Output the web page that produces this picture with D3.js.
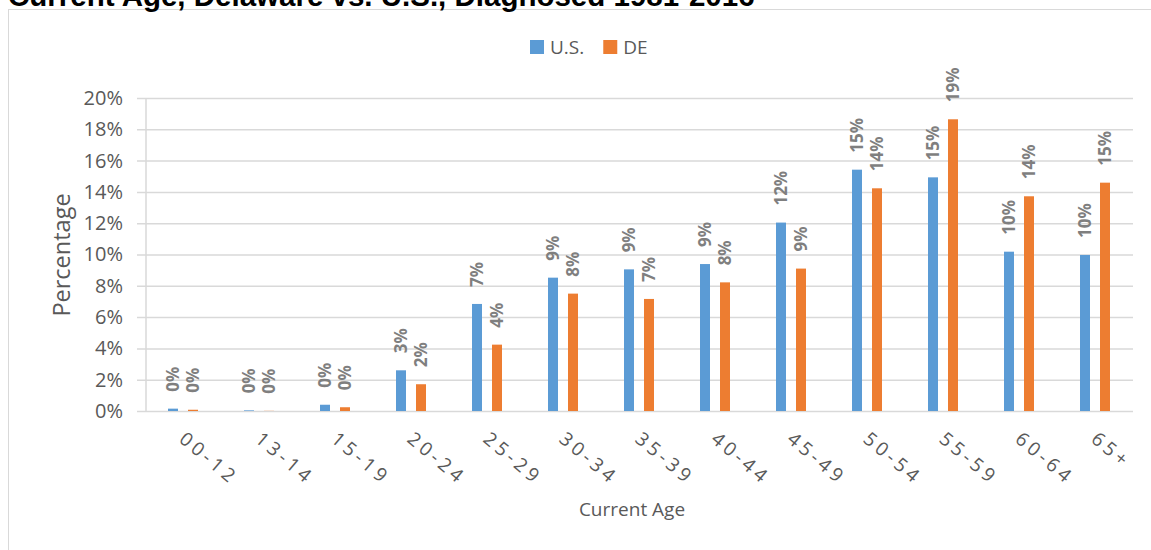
<!DOCTYPE html>
<html>
<head>
<meta charset="utf-8">
<script src="https://cdn.jsdelivr.net/npm/d3@7"></script>
<style>
  html, body { margin: 0; padding: 0; background: #fff; }
  svg { display: block; }
</style>
</head>
<body>
<svg id="chart" width="1151" height="550"></svg>
<script>
const title = "Current Age, Delaware vs. U.S., Diagnosed 1981-2016";
const categories = ["00-12","13-14","15-19","20-24","25-29","30-34","35-39","40-44","45-49","50-54","55-59","60-64","65+"];
const seriesNames = ["U.S.", "DE"];
const usValues = [0.15, 0.04, 0.40, 2.60, 6.84, 8.52, 9.05, 9.39, 12.04, 15.42, 14.93, 10.18, 9.97];
const deValues = [0.08, 0.01, 0.24, 1.71, 4.24, 7.50, 7.16, 8.22, 9.10, 14.23, 18.64, 13.72, 14.59];
const yTicks = [0, 2, 4, 6, 8, 10, 12, 14, 16, 18, 20];
const xTitle = "Current Age";
const yTitle = "Percentage";
const colors = ["#5b9bd5", "#ed7d31"];

const svg = d3.select("#chart");
const textColor = "#595959";
const gridColor = "#d9d9d9";

// chart border
svg.append("rect").attr("x", 8.5).attr("y", 9.5).attr("width", 1160).attr("height", 560)
  .attr("fill", "none").attr("stroke", gridColor).attr("stroke-width", 1);

// title (clipped at top as in reference)
svg.append("text").attr("x", 8).attr("y", 6)
  .attr("font-family", "Liberation Sans, Arial, sans-serif").attr("font-weight", "bold")
  .attr("font-size", 29.5).attr("fill", "#000").text(title);

const plotLeft = 145, plotRight = 1133, plotTop = 98, plotBottom = 411;
const x = d3.scaleBand().domain(categories).range([plotLeft, plotRight]).padding(0);
const y = d3.scaleLinear().domain([0, 20]).range([plotBottom, plotTop]);

// gridlines + y labels via axis
const yAxis = d3.axisLeft(y).tickValues(yTicks).tickFormat(d => d + "%")
  .tickSize(-(plotRight - plotLeft)).tickPadding(14);
const gy = svg.append("g").attr("transform", `translate(${plotLeft},0)`).call(yAxis);
gy.select(".domain").remove();
gy.selectAll(".tick line").attr("stroke", gridColor).attr("stroke-width", 1.5).attr("x1", -8);
gy.selectAll(".tick text").attr("fill", textColor).attr("font-family", "Open Sans, sans-serif")
  .attr("font-size", 20).attr("x", -22);

// vertical axis line
svg.append("line").attr("x1", plotLeft + 1).attr("x2", plotLeft + 1).attr("y1", plotTop).attr("y2", plotBottom)
  .attr("stroke", gridColor).attr("stroke-width", 1.5);

// bars
const barW = 10;
const series = [usValues, deValues];
series.forEach((vals, si) => {
  const off = si === 0 ? -15 : 5;
  svg.append("g").selectAll("rect").data(categories).join("rect")
    .attr("x", d => x(d) + x.bandwidth() / 2 + off)
    .attr("width", barW)
    .attr("y", (d, i) => y(vals[i]))
    .attr("height", (d, i) => y(0) - y(vals[i]))
    .attr("fill", colors[si]);
  svg.append("g").selectAll("text").data(categories).join("text")
    .attr("transform", (d, i) => `translate(${x(d) + x.bandwidth() / 2 + off + barW / 2},${y(vals[i]) - 17}) rotate(-90)`)
    .attr("dy", "0.36em")
    .attr("text-anchor", "start")
    .attr("font-family", "Open Sans, sans-serif").attr("font-weight", "bold")
    .attr("font-size", 17).attr("fill", "#7f7f7f")
    .text((d, i) => Math.round(vals[i]) + "%");
});

// x axis labels
const xAxis = d3.axisBottom(x).tickSize(0).tickPadding(0);
const gx = svg.append("g").attr("transform", `translate(0,${plotBottom})`).call(xAxis);
gx.select(".domain").remove();
gx.selectAll(".tick text")
  .attr("text-anchor", "start").attr("y", 0).attr("dy", 0)
  .attr("transform", "translate(-5,30) rotate(40)")
  .attr("fill", textColor).attr("font-family", "Open Sans, sans-serif")
  .attr("font-size", 19).attr("letter-spacing", "4px");

// axis titles
svg.append("text").attr("transform", "translate(70,255) rotate(-90)")
  .attr("text-anchor", "middle").attr("fill", textColor)
  .attr("font-family", "Open Sans, sans-serif").attr("font-size", 23.5).text(yTitle);
svg.append("text").attr("x", 632).attr("y", 516)
  .attr("text-anchor", "middle").attr("fill", textColor)
  .attr("font-family", "Open Sans, sans-serif").attr("font-size", 19).text(xTitle);

// legend
const lg = svg.append("g").attr("transform", "translate(530,40)");
let lx = 0;
seriesNames.forEach((name, i) => {
  const g = lg.append("g").attr("transform", `translate(${lx},0)`);
  g.append("rect").attr("width", 14).attr("height", 14).attr("fill", colors[i]);
  const t = g.append("text").attr("x", 20).attr("y", 14).attr("fill", textColor)
    .attr("font-family", "Open Sans, sans-serif").attr("font-size", 19).text(name);
  lx += 20 + t.node().getComputedTextLength() + 19;
});
</script>
</body>
</html>
